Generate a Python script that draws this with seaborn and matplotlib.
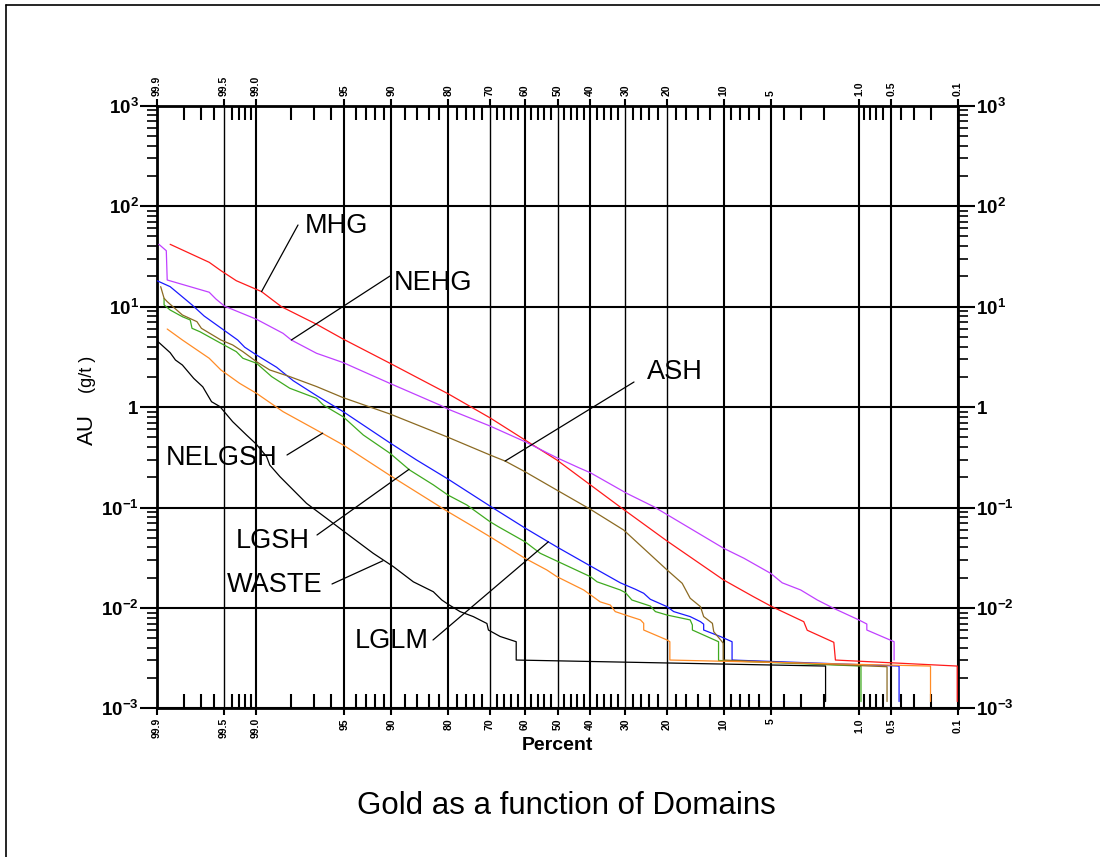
import numpy as np
import pandas as pd
import matplotlib
matplotlib.use("Agg")
import matplotlib.pyplot as plt
from matplotlib.lines import Line2D
from matplotlib.ticker import FixedLocator, FixedFormatter, LogLocator, NullFormatter
import seaborn as sns
from statistics import NormalDist

# ---------------- data (percent, AU g/t) ----------------
mhg_pct = [99.86, 99.64, 99.53, 99.34, 98.88, 98.34, 96.85, 95.09, 90.2, 80.0, 69.85, 59.9, 50.2,
           40.0, 31.4, 19.9, 10.0, 6.5, 4.9, 2.87, 2.7, 1.65, 1.6, 0.102, 0.102]
mhg_au = [41.7, 27.6, 22.8, 18.1, 14.1, 9.97, 6.67, 4.75, 2.73, 1.35, 0.78, 0.47, 0.297,
          0.168, 0.101, 0.0464, 0.019, 0.0129, 0.0103, 0.0073, 0.0060, 0.00455, 0.00303, 0.00264, 0.00117]

nehg_pct = [99.895, 99.873, 99.87, 99.64, 99.58, 99.49, 98.99, 98.29, 98.0, 96.85, 95.09, 90.2, 81.8,
            80.0, 69.85, 59.9, 50.2, 43.0, 40.0, 29.6, 22.9, 10.0, 7.5, 5.0, 4.15, 3.03, 2.25, 1.65,
            1.0, 0.85, 0.85, 0.47, 0.47]
nehg_au = [41.7, 36.0, 18.4, 13.9, 11.9, 10.1, 7.48, 5.42, 4.65, 3.43, 2.77, 1.72, 1.047,
           0.95, 0.647, 0.452, 0.313, 0.245, 0.222, 0.138, 0.102, 0.0393, 0.0312, 0.0221, 0.0178, 0.0151,
           0.0120, 0.0099, 0.00759, 0.00692, 0.00603, 0.00461, 0.00303]

lglm_pct = [99.9, 99.86, 99.81, 99.76, 99.68, 99.51, 99.32, 99.21, 98.99, 98.49, 97.93, 96.85, 95.09,
            90.2, 86.15, 80.1, 69.9, 59.9, 50.2, 40.0, 31.4, 27.4, 25.3, 23.7, 19.9, 18.5, 15.3, 13.5,
            12.97, 12.97, 10.4, 8.9, 8.9, 0.42, 0.42]
lglm_au = [18.1, 15.8, 12.5, 10.4, 8.06, 5.94, 4.65, 3.94, 3.30, 2.49, 1.83, 1.30, 0.90,
           0.44, 0.297, 0.192, 0.1035, 0.0625, 0.0405, 0.0262, 0.0178, 0.01535, 0.014, 0.0122, 0.0103,
           0.0092, 0.0082, 0.0073, 0.0069, 0.00603, 0.00518, 0.00461, 0.00303, 0.00264, 0.00117]

lgsh_pct = [99.88, 99.88, 99.86, 99.81, 99.77, 99.76, 99.71, 99.53, 99.34, 99.24, 98.99, 98.63, 98.06,
            96.85, 96.47, 95.09, 93.3, 90.2, 87.3, 83.1, 80.1, 75.8, 69.9, 67.6, 59.9, 55.3, 49.7, 40.0,
            38.0, 31.4, 30.0, 28.3, 23.7, 22.5, 19.9, 15.3, 14.9, 14.9, 10.7, 10.7, 0.96, 0.96]
lgsh_au = [12.1, 10.4, 9.25, 7.93, 7.36, 6.08, 5.62, 4.31, 3.56, 3.06, 2.73, 2.01, 1.54,
           1.22, 1.05, 0.80, 0.527, 0.347, 0.236, 0.168, 0.133, 0.106, 0.0723, 0.0644, 0.0456, 0.035,
           0.0288, 0.0205, 0.0182, 0.0151, 0.0142, 0.012, 0.01045, 0.0092, 0.0085, 0.0076, 0.00676,
           0.00603, 0.00461, 0.0030, 0.00264, 0.00117]

ash_pct = [99.89, 99.88, 99.87, 99.81, 99.73, 99.70, 99.53, 99.39, 99.24, 98.99, 98.68, 98.06, 96.85,
           95.09, 90.2, 80.4, 69.85, 65.7, 59.9, 50.2, 40.0, 30.5, 19.9, 16.8, 15.3, 13.5, 12.97, 11.6,
           11.4, 10.4, 10.05, 10.05, 0.55, 0.55]
ash_au = [15.8, 12.1, 11.2, 8.25, 7.08, 6.08, 4.65, 4.15, 3.56, 2.83, 2.34, 2.01, 1.60,
          1.24, 0.853, 0.507, 0.333, 0.290, 0.227, 0.149, 0.096, 0.0597, 0.0239, 0.0176, 0.0125,
          0.0103, 0.0082, 0.00703, 0.0058, 0.0048, 0.00445, 0.00303, 0.0026, 0.00117]

nelgsh_pct = [99.87, 99.81, 99.64, 99.53, 99.29, 98.99, 98.29, 96.85, 95.09, 90.3, 80.1, 74.2, 69.9,
              59.9, 53.3, 50.2, 42.0, 37.1, 34.2, 32.8, 30.0, 26.1, 25.3, 25.3, 19.9, 19.3, 19.3,
              0.2, 0.2]
nelgsh_au = [5.98, 4.65, 3.06, 2.34, 1.72, 1.37, 0.90, 0.59, 0.419, 0.211, 0.0908, 0.0644, 0.0512,
             0.0312, 0.0239, 0.0205, 0.0151, 0.0115, 0.0107, 0.0092, 0.0085, 0.0076, 0.00703, 0.00603,
             0.0048, 0.00461, 0.00303, 0.00264, 0.00117]

waste_pct = [99.9, 99.86, 99.84, 99.81, 99.75, 99.69, 99.62, 99.54, 99.39, 99.18, 99.0, 98.76, 98.68,
             98.39, 97.36, 96.26, 95.0, 92.25, 89.74, 86.7, 83.1, 81.4, 80.1, 77.4, 74.2, 70.7, 70.3,
             67.1, 62.5, 62.5, 1.93, 1.93]
waste_au = [4.57, 3.48, 2.94, 2.62, 1.93, 1.59, 1.13, 1.01, 0.715, 0.527, 0.43, 0.321, 0.265,
            0.203, 0.110, 0.078, 0.0574, 0.035, 0.0258, 0.0182, 0.0145, 0.012, 0.0109, 0.0092, 0.0082,
            0.0070, 0.00603, 0.0052, 0.00461, 0.00303, 0.00264, 0.00117]

domains = ["MHG", "NEHG", "LGLM", "LGSH", "ASH", "NELGSH", "WASTE"]
domain_pct = [mhg_pct, nehg_pct, lglm_pct, lgsh_pct, ash_pct, nelgsh_pct, waste_pct]
domain_au = [mhg_au, nehg_au, lglm_au, lgsh_au, ash_au, nelgsh_au, waste_au]
colors = {"MHG": "#ff1a1a", "NEHG": "#c040ff", "LGLM": "#1a1aff", "LGSH": "#3faa1f",
          "ASH": "#8b6a22", "NELGSH": "#ff8c26", "WASTE": "#000000"}

major_pct = [99.9, 99.5, 99.0, 95, 90, 80, 70, 60, 50, 40, 30, 20, 10, 5, 1.0, 0.5, 0.1]
major_lbl = ["99.9", "99.5", "99.0", "95", "90", "80", "70", "60", "50", "40", "30", "20",
             "10", "5", "1.0", "0.5", "0.1"]
minor_pct = [99.8, 99.7, 99.6, 99.4, 99.3, 99.2, 99.1, 98, 97, 96, 94, 93, 92, 91, 88, 86, 84, 82,
             78, 76, 74, 72, 68, 66, 64, 62, 58, 56, 54, 52, 48, 46, 44, 42, 38, 36, 34, 32, 28, 26,
             24, 22, 18, 16, 14, 12, 9, 8, 7, 6, 4, 3, 2, 0.9, 0.8, 0.7, 0.6, 0.4, 0.3, 0.2]
thin_grid = ["99.5", "70", "50", "30", "20"]
y_ticks = [1e-3, 1e-2, 1e-1, 1, 10, 100, 1000]
y_lbl = [r"$\mathbf{10^{-3}}$", r"$\mathbf{10^{-2}}$", r"$\mathbf{10^{-1}}$", r"$\mathbf{1}$",
         r"$\mathbf{10^{1}}$", r"$\mathbf{10^{2}}$", r"$\mathbf{10^{3}}$"]

# annotations: label, leader start (image px), leader end (data), text left x, text baseline (image px)
annots = [
    ("MHG", (298, 225), (98.88, 14.1), 305, 233),
    ("NEHG", (390, 276), (98.0, 4.65), 394, 290),
    ("ASH", (634, 382), (65.7, 0.29), 647, 379),
    ("NELGSH", (287, 455), (96.5, 0.55), 166, 465),
    ("LGSH", (317, 535), (87.4, 0.24), 236, 548),
    ("WASTE", (332, 584), (91.1, 0.0295), 227, 592),
    ("LGLM", (433, 640), (52.8, 0.0456), 355, 648),
]

# ---------------- style ----------------
sns.set_theme(style="white")
plt.rcParams["font.family"] = ["Liberation Sans", "DejaVu Sans"]
plt.rcParams["mathtext.fontset"] = "custom"
plt.rcParams["mathtext.rm"] = "Liberation Sans"
plt.rcParams["mathtext.bf"] = "Liberation Sans:bold"
plt.rcParams["axes.unicode_minus"] = True
for key in ["text.color", "axes.labelcolor", "xtick.color", "ytick.color",
            "xtick.labelcolor", "ytick.labelcolor", "axes.edgecolor"]:
    plt.rcParams[key] = "black"

W, H = 1100, 857
fig = plt.figure(figsize=(W / 100, H / 100), dpi=100)
ax = fig.add_axes([157 / W, 1 - 708.4 / H, 801 / W, (708.4 - 105.7) / H])

_nd = NormalDist()


def fwd(p):
    p = np.asarray(p, dtype=float)
    q = np.clip(p / 100.0, 1e-12, 1 - 1e-12)
    flat = [(_nd.inv_cdf(v) if np.isfinite(v) else np.nan) for v in q.ravel()]
    return np.array(flat, dtype=float).reshape(q.shape)


def inv(z):
    z = np.asarray(z, dtype=float)
    flat = [(_nd.cdf(v) * 100.0 if np.isfinite(v) else np.nan) for v in z.ravel()]
    return np.array(flat, dtype=float).reshape(z.shape)


ax.set_xscale("function", functions=(fwd, inv))
ax.set_yscale("log")

rows = []
for name, pcts, aus in zip(domains, domain_pct, domain_au):
    for i, (p, a) in enumerate(zip(pcts, aus)):
        rows.append({"domain": name, "pct": p, "au": a, "order": i})
df = pd.DataFrame(rows)

sns.lineplot(data=df, x="pct", y="au", hue="domain", palette=colors, estimator=None,
             sort=False, legend=False, ax=ax, linewidth=0.9, zorder=3)

ax.set_xlim(99.9, 0.1)
ax.set_ylim(1e-3, 1e3)
ax.set_xlabel("")
ax.set_ylabel("")

ax.xaxis.set_major_locator(FixedLocator(major_pct))
ax.xaxis.set_major_formatter(FixedFormatter(major_lbl))
ax.xaxis.set_minor_locator(FixedLocator(minor_pct))
ax.xaxis.set_minor_formatter(NullFormatter())
ax.yaxis.set_major_locator(FixedLocator(y_ticks))
ax.yaxis.set_major_formatter(FixedFormatter(y_lbl))
ax.yaxis.set_minor_locator(LogLocator(base=10, subs=np.arange(2, 10)))
ax.yaxis.set_minor_formatter(NullFormatter())

ax.tick_params(axis="x", which="major", direction="out", length=5, width=1.5, color="black",
               top=True, bottom=True, labeltop=True, labelbottom=True, labelrotation=90,
               labelsize=7.5, pad=2, labelcolor="black")
ax.tick_params(axis="x", which="minor", direction="in", length=10, width=1.5, color="black",
               top=True, bottom=True)
ax.tick_params(axis="y", which="major", direction="out", length=12, width=1.5, color="black",
               left=True, right=True, labelleft=True, labelright=True, labelsize=13.5, pad=1,
               labelcolor="black")
ax.tick_params(axis="y", which="minor", direction="out", length=7, width=1.2, color="black",
               left=True, right=True)
for t in ax.xaxis.get_major_ticks():
    t.label2.set_fontweight("bold")
    t.label1.set_fontweight("bold")

ax.set_axisbelow(True)
ax.grid(True, which="major", axis="both", color="black", linewidth=1.5)
ax.grid(False, which="minor")
for gl, lbl in zip(ax.get_xgridlines(), major_lbl):
    if lbl in thin_grid:
        gl.set_linewidth(1.0)

for s in ax.spines.values():
    s.set_linewidth(2)
    s.set_color("black")
    s.set_visible(True)

# annotations
for label, (sx, sy), (dp, dv), tx, tb in annots:
    ax.annotate("", xy=(dp, dv), xycoords="data", xytext=(sx, H - sy),
                textcoords="figure pixels",
                arrowprops=dict(arrowstyle="-", color="black", lw=0.9, shrinkA=0, shrinkB=0),
                annotation_clip=False)
    fig.text(tx / W, 1 - tb / H, label, fontsize=19.5, ha="left", va="baseline", color="black")

# axis labels and title
fig.text(87 / W, 1 - 430 / H, "AU", rotation=90, fontsize=16, ha="center", va="center",
         color="black")
fig.text(87 / W, 1 - 374 / H, "(g/t )", rotation=90, fontsize=13, ha="center", va="center",
         color="black")
fig.text(557.5 / W, 1 - 750 / H, "Percent", fontsize=14, fontweight="bold", ha="center",
         va="baseline", color="black")
fig.text(566 / W, 1 - 814 / H, "Gold as a function of Domains", fontsize=22.5, ha="center",
         va="baseline", color="black")

# page frame
fig.add_artist(Line2D([6 / W, 1.0], [1 - 5 / H, 1 - 5 / H], transform=fig.transFigure,
                      color="black", lw=1.2))
fig.add_artist(Line2D([6 / W, 6 / W], [0.0, 1 - 5 / H], transform=fig.transFigure,
                      color="black", lw=1.2))

fig.savefig("out.png", dpi=100)
